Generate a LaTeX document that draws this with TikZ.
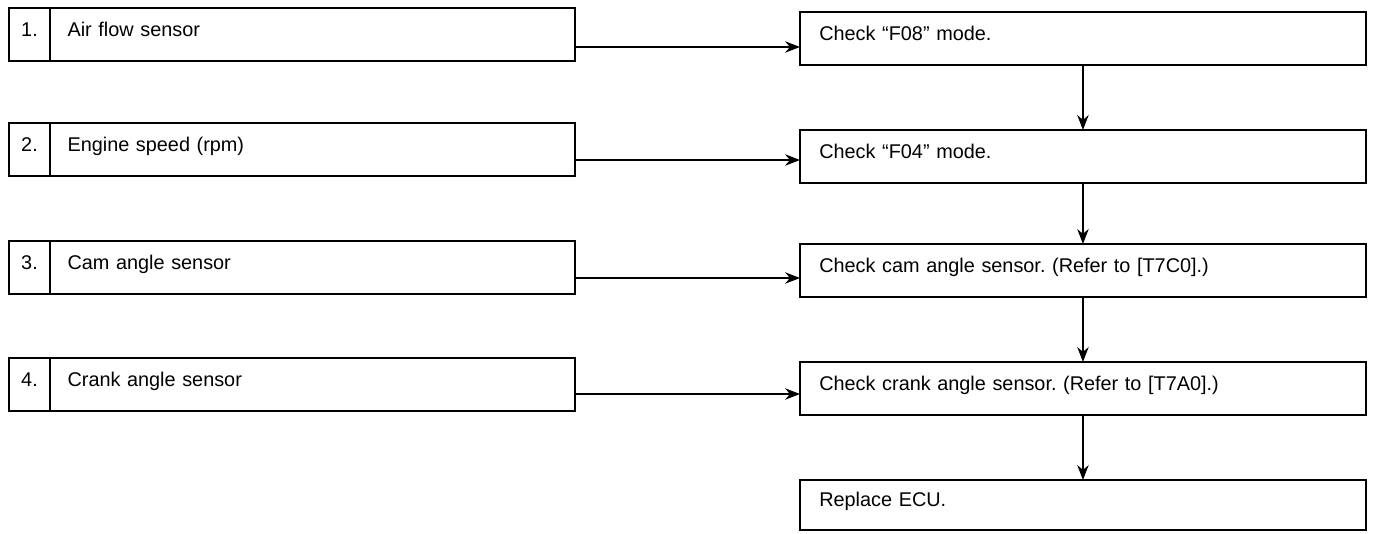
\documentclass[tikz,border=0pt]{standalone}
\usepackage{fontspec}
\setmainfont{Liberation Sans}
\usetikzlibrary{positioning,arrows.meta}
\frenchspacing

\begin{document}
\begin{tikzpicture}[
  x=0.02cm, y=-0.02cm,
  >={Stealth[length=8.5pt,width=6.5pt]},
  node distance=0pt,
  box/.style={draw, line width=0.9pt, rectangle, outer sep=0pt, anchor=north west,
    font=\fontsize{11.3}{14}\selectfont, text height=0.75em, text depth=0.55em},
  numbox/.style={box, minimum width=0.82cm, minimum height=1.06cm, inner xsep=0pt},
  itembox/.style={box, text width=10.5cm-20pt, inner xsep=10pt, minimum height=1.06cm, align=left},
  stepbox/.style={box, text width=11.32cm-22pt, inner xsep=11pt, minimum height=1.06cm, align=left},
  flow/.style={->, line width=0.7pt}
]
  \useasboundingbox (0,0) rectangle (1379,534);

  % items on the left
  \node[numbox] (n1) at (9,8) {1.};
  \node[itembox, right=of n1] (l1) {Air flow sensor};
  \node[numbox] (n2) at (9,123) {2.};
  \node[itembox, right=of n2] (l2) {Engine speed (rpm)};
  \node[numbox] (n3) at (9,241) {3.};
  \node[itembox, right=of n3] (l3) {Cam angle sensor};
  \node[numbox] (n4) at (9,358) {4.};
  \node[itembox, right=of n4] (l4) {Crank angle sensor};

  % checks on the right
  \node[stepbox] (r1) at (800,12) {Check ``F08'' mode.};
  \node[stepbox] (r2) at (800,130) {Check ``F04'' mode.};
  \node[stepbox] (r3) at (800,244) {Check cam angle sensor. (Refer to [T7C0].)};
  \node[stepbox] (r4) at (800,362) {Check crank angle sensor. (Refer to [T7A0].)};
  \node[stepbox, minimum height=1cm] (r5) at (800,480) {Replace ECU.};

  \coordinate (a1) at (0,47);
  \coordinate (a2) at (0,160);
  \coordinate (a3) at (0,278);
  \coordinate (a4) at (0,394);

  \draw[flow] (l1.east |- a1) -- (r1.west |- a1);
  \draw[flow] (l2.east |- a2) -- (r2.west |- a2);
  \draw[flow] (l3.east |- a3) -- (r3.west |- a3);
  \draw[flow] (l4.east |- a4) -- (r4.west |- a4);

  \draw[flow] (r1.south) -- (r2.north);
  \draw[flow] (r2.south) -- (r3.north);
  \draw[flow] (r3.south) -- (r4.north);
  \draw[flow] (r4.south) -- (r5.north);
\end{tikzpicture}
\end{document}
